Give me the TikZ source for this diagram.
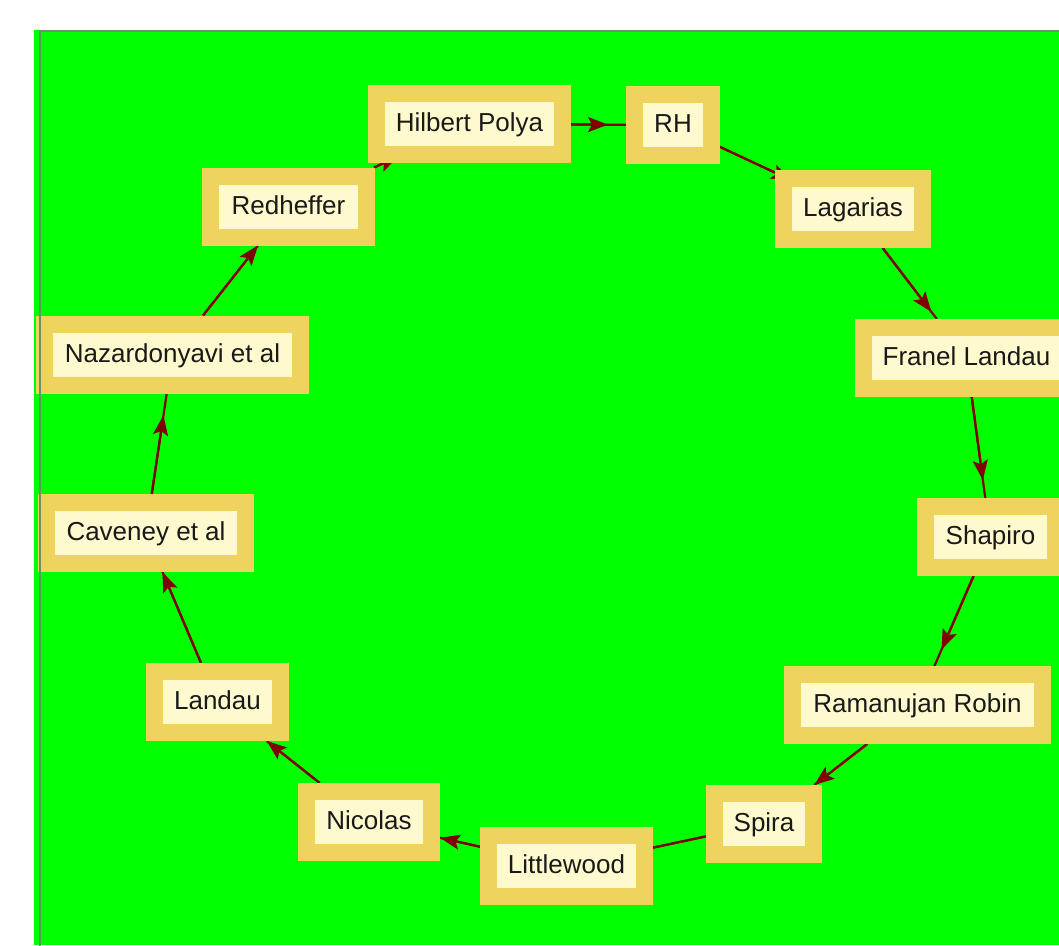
\documentclass[tikz,border=0pt]{standalone}
\usepackage{fontspec}
\setmainfont{Liberation Sans}
\usetikzlibrary{arrows.meta}
\definecolor{bggreen}{RGB}{0,255,0}
\definecolor{boxout}{RGB}{238,212,94}
\definecolor{boxin}{RGB}{255,250,205}
\definecolor{edgecol}{RGB}{128,0,0}
\definecolor{framecol}{RGB}{100,150,100}
\pgfdeclarelayer{bglayer}
\pgfdeclarelayer{edgelayer}
\pgfdeclarelayer{fglayer}
\pgfsetlayers{bglayer,edgelayer,main,fglayer}
\tikzset{
  box/.style={rectangle, fill=boxin, draw=boxout, line width=17pt, outer sep=8.5pt,
    inner sep=0pt, minimum height=61pt, text height=18pt, text depth=3pt,
    font=\fontsize{26}{31}\selectfont, text=black!90},
  link/.style={draw=edgecol, line width=2.2pt},
  tipped/.style={link, -{Stealth[length=20pt,width=15pt,inset=4pt]}}
}
\newcommand{\linkarrow}[3]{%
  \draw[link] (#1) -- (#2);
  \draw[tipped, shorten >=#3] (#1) -- (#2);}
\begin{document}
\begin{tikzpicture}[x=1pt,y=-1pt]
\useasboundingbox (0,0) rectangle (1059,945);
\begin{pgfonlayer}{bglayer}
  \fill[bggreen] (34,30) rectangle (1059,945);
\end{pgfonlayer}
\node[box, minimum width=186pt] (hp)  at (469.5,124)   {Hilbert Polya};
\node[box, minimum width=77pt]  (rh)  at (673,125)     {RH};
\node[box, minimum width=139pt] (lag) at (853,209)     {Lagarias};
\node[box, minimum width=206pt] (fra) at (966.5,358)   {Franel Landau};
\node[box, minimum width=130pt] (sha) at (990.5,537)   {Shapiro};
\node[box, minimum width=250pt] (rr)  at (917.5,705)   {Ramanujan Robin};
\node[box, minimum width=99pt]  (spi) at (764,824)     {Spira};
\node[box, minimum width=156pt] (lit) at (566.5,866)   {Littlewood};
\node[box, minimum width=125pt] (nic) at (369,822)     {Nicolas};
\node[box, minimum width=126pt] (lan) at (217.5,702)   {Landau};
\node[box, minimum width=199pt] (cav) at (146,533)     {Caveney et al};
\node[box, minimum width=256pt] (naz) at (172.5,354.5) {Nazardonyavi et al};
\node[box, minimum width=156pt] (red) at (288.5,206.5) {Redheffer};
\begin{pgfonlayer}{edgelayer}
  \linkarrow{hp}{rh}{18pt}
  \linkarrow{rh}{lag}{-18pt}
  \linkarrow{lag}{fra}{9pt}
  \linkarrow{fra}{sha}{18pt}
  \linkarrow{sha}{rr}{18pt}
  \linkarrow{rr}{spi}{0pt}
  \linkarrow{spi}{lit}{-24pt}
  \linkarrow{lit}{nic}{0pt}
  \linkarrow{nic}{lan}{0pt}
  \linkarrow{lan}{cav}{0pt}
  \linkarrow{cav}{naz}{22pt}
  \linkarrow{naz}{red}{0pt}
  \linkarrow{red}{hp}{-16pt}
\end{pgfonlayer}
\begin{pgfonlayer}{fglayer}
  \draw[framecol, line width=1.5pt] (1100,31) -- (40,31) -- (40,1000);
\end{pgfonlayer}
\end{tikzpicture}
\end{document}
